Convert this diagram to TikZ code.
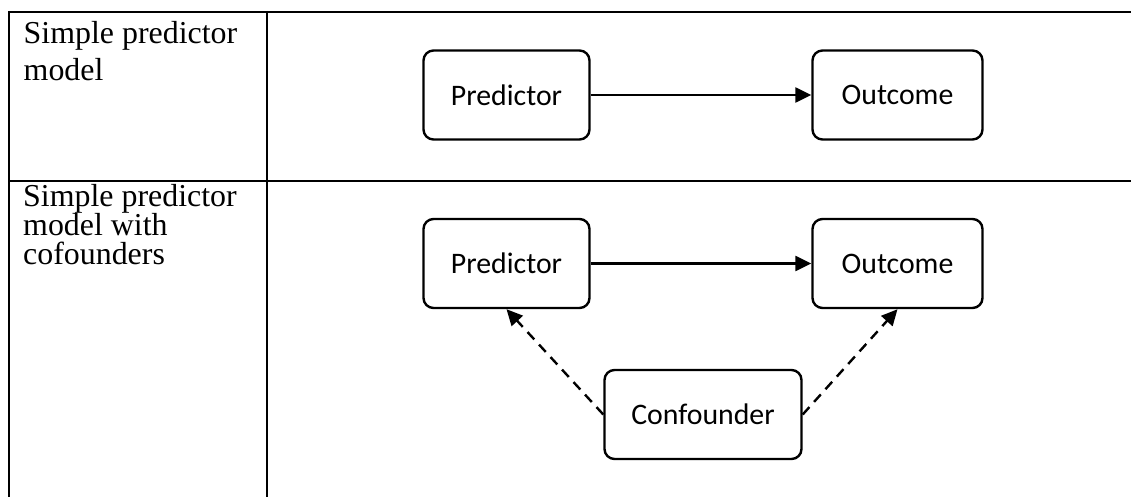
\documentclass[tikz,border=0pt]{standalone}
\usepackage{fontspec}
\setmainfont{Liberation Serif}
\newfontfamily\boxfont{Carlito}
\usetikzlibrary{arrows.meta}
\newcommand\tightlines{\lineskiplimit=-20pt\relax}

\begin{document}
\begin{tikzpicture}[x=1pt, y=-1pt,
		var/.style={draw, line width=2.4pt, rounded corners=10pt, minimum height=89pt, font=\boxfont\fontsize{29.8}{34}\selectfont},
		rowlabel/.style={anchor=north west, inner sep=0pt, align=left},
		rule/.style={line width=2.4pt},
		tip/.style={-{Triangle[length=16pt, width=15pt]}, line width=2.4pt}]
		\useasboundingbox (0,0) rectangle (1131,497);
		% table lines
		\draw[rule] (8,12) -- (1131,12);
		\draw[rule] (8,181) -- (1131,181);
		\draw[rule] (9,11) -- (9,497);
		\draw[rule] (267,11) -- (267,497);
		\node[rowlabel, font=\tightlines\fontsize{31.9}{36.5}\selectfont] (lblA) at (23.5,21.5) {Simple predictor\\model};
		\node[rowlabel, font=\tightlines\fontsize{31.9}{29}\selectfont] (lblB) at (23,184) {Simple predictor\\model with\\cofounders};
		% simple model
		\node[var, minimum width=166pt] (predA) at (506.5,95) {Predictor};
		\node[var, minimum width=170pt] (outA) at (897.5,95) {Outcome};
		\draw[tip] (predA) -- (outA);
		% model with confounder
		\node[var, minimum width=166pt] (predB) at (506.5,263.5) {Predictor};
		\node[var, minimum width=170pt] (outB) at (897.5,263.5) {Outcome};
		\node[var, minimum width=197pt] (conf) at (703,414.5) {Confounder};
		\draw[tip] (predB) -- (outB);
		\draw[tip, dash pattern=on 10pt off 7pt] (conf.west) -- (predB.south);
		\draw[tip, dash pattern=on 10pt off 7pt] (conf.east) -- (outB.south);
\end{tikzpicture}
\end{document}
